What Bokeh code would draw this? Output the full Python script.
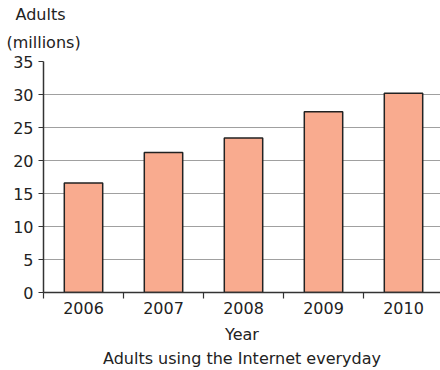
from bokeh.plotting import figure
from bokeh.models import Range1d, FixedTicker, Title
from bokeh.embed import file_html
from bokeh.resources import INLINE

# Adults using the Internet every day, in millions
years = [2006, 2007, 2008, 2009, 2010]
adults = [16.6, 21.2, 23.4, 27.4, 30.2]
year_labels = ["2006", "2007", "2008", "2009", "2010"]
y_ticks = [0, 5, 10, 15, 20, 25, 30, 35]

FONT = "DejaVu Sans"
FS = "16px"
TXT = "#222222"

x_start = years[0] - 0.5
x_end = x_start + 397 / 80

p = figure(
    width=440, height=370,
    x_range=Range1d(x_start, x_end), y_range=Range1d(0, 35),
    output_backend="svg", toolbar_location=None,
    min_border_left=43, min_border_right=0,
    min_border_top=61, min_border_bottom=78,
)
p.outline_line_color = None
p.background_fill_color = "white"
p.border_fill_color = "white"

p.vbar(x=years, top=adults, width=0.48, bottom=0,
       fill_color="#F9AB8F", line_color="#222222", line_width=1.5)

# x axis: year labels at bar centres, tick marks between categories
xa = p.xaxis[0]
xa.ticker = FixedTicker(ticks=years, minor_ticks=[y - 0.5 for y in years])
xa.major_label_overrides = {y: s for y, s in zip(years, year_labels)}
xa.major_tick_line_color = None
xa.major_tick_out = 5
xa.major_tick_in = 0
xa.minor_tick_out = 6
xa.minor_tick_in = 0
xa.minor_tick_line_color = "#333333"
xa.minor_tick_line_width = 1.2
xa.axis_line_color = "#333333"
xa.axis_line_width = 1.5
xa.major_label_text_font = FONT
xa.major_label_text_font_size = FS
xa.major_label_text_color = TXT
xa.major_label_standoff = 3
xa.axis_label = "Year"
xa.axis_label_text_font = FONT
xa.axis_label_text_font_size = FS
xa.axis_label_text_font_style = "normal"
xa.axis_label_text_color = TXT
xa.axis_label_standoff = 8

ya = p.yaxis[0]
ya.ticker = FixedTicker(ticks=y_ticks)
ya.minor_tick_line_color = None
ya.major_tick_out = 5
ya.major_tick_in = 0
ya.major_tick_line_color = "#333333"
ya.major_tick_line_width = 1.2
ya.axis_line_color = "#333333"
ya.axis_line_width = 1.5
ya.major_label_text_font = FONT
ya.major_label_text_font_size = FS
ya.major_label_text_color = TXT
ya.major_label_standoff = 5

p.xgrid.grid_line_color = None
p.ygrid.ticker = FixedTicker(ticks=[5, 10, 15, 20, 25, 30])
p.ygrid.grid_line_color = "#A0A0A0"
p.ygrid.grid_line_width = 1.2
p.ygrid.level = "underlay"

# caption below the axis title
p.add_layout(Title(text="Adults using the Internet everyday", align="center",
                   text_font=FONT, text_font_size=FS, text_font_style="normal",
                   text_color=TXT, standoff=0), "below")

# two-line unit label over the value axis
for t, off, so in [("(millions)", -37, 20), ("Adults", -28, -6)]:
    p.add_layout(Title(text=t, align="left", offset=off,
                       text_font=FONT, text_font_size=FS,
                       text_font_style="normal", text_color=TXT,
                       standoff=so), "above")

open("out.html", "w").write(file_html(p, INLINE))
